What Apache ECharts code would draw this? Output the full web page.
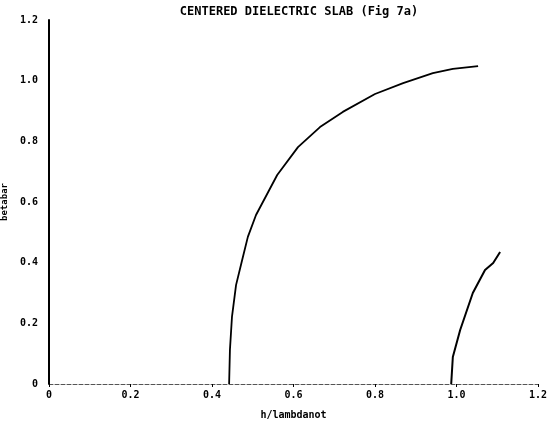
<!DOCTYPE html>
<html>
<head>
<meta charset="utf-8">
<script src="https://cdn.jsdelivr.net/npm/echarts@6/dist/echarts.min.js"></script>
<style>html,body{margin:0;padding:0;background:#fff}#c{width:551px;height:426px}</style>
</head>
<body>
<div id="c"></div>
<script>
var titleText = "CENTERED DIELECTRIC SLAB (Fig 7a)";
var xName = "h/lambdanot";
var yName = "betabar";
var mode1X = [0.442, 0.444, 0.449, 0.459, 0.474, 0.488, 0.508, 0.560, 0.611, 0.665, 0.721, 0.800, 0.869, 0.942, 0.991, 1.053];
var mode1Y = [0.000, 0.112, 0.221, 0.326, 0.409, 0.485, 0.557, 0.689, 0.781, 0.847, 0.897, 0.956, 0.992, 1.025, 1.039, 1.048];
var mode2X = [0.987, 0.991, 1.009, 1.040, 1.070, 1.090, 1.107];
var mode2Y = [0.000, 0.089, 0.178, 0.300, 0.376, 0.399, 0.435];

function pairs(xs, ys){ return xs.map(function(x,i){ return [x, ys[i]]; }); }
var font = "DejaVu Sans Mono";
var chart = echarts.init(document.getElementById('c'));
chart.setOption({
  animation: false,
  backgroundColor: '#fff',
  title: { text: titleText, left: 294, top: 1, textAlign: 'center',
    textStyle: { fontFamily: font, fontSize: 12, fontWeight: 'bold', color: '#000' } },
  grid: { left: 49, right: 13, top: 20, bottom: 42, containLabel: false, outerBoundsMode: 'none' },
  xAxis: { type: 'value', min: 0, max: 1.2, interval: 0.2,
    name: xName, nameLocation: 'middle', nameGap: 26,
    nameTextStyle: { fontFamily: font, fontSize: 10, fontWeight: 'bold', color: '#000' },
    axisLine: { show: true, onZero: false, lineStyle: { color: '#555', width: 1, type: 'dashed' } },
    axisTick: { show: true, length: 3, inside: false, lineStyle: { color: '#000' } },
    splitLine: { show: false },
    axisLabel: { margin: 6, fontFamily: font, fontSize: 10, fontWeight: 'bold', color: '#000',
      formatter: function(v){ return v === 0 ? '0' : v.toFixed(1); } } },
  yAxis: { type: 'value', min: 0, max: 1.2, interval: 0.2,
    name: yName, nameLocation: 'middle', nameGap: 40, nameRotate: 90,
    nameTextStyle: { fontFamily: font, fontSize: 9, fontWeight: 'bold', color: '#000' },
    axisLine: { show: true, onZero: false, lineStyle: { color: '#000', width: 2 } },
    axisTick: { show: false },
    splitLine: { show: false },
    axisLabel: { margin: 11, fontFamily: font, fontSize: 10, fontWeight: 'bold', color: '#000',
      formatter: function(v){ return v === 0 ? '0' : v.toFixed(1); } } },
  series: [
    { type: 'line', data: pairs(mode1X, mode1Y), showSymbol: false, lineStyle: { color: '#000', width: 1.8 } },
    { type: 'line', data: pairs(mode2X, mode2Y), showSymbol: false, lineStyle: { color: '#000', width: 2 } }
  ]
});
</script>
</body>
</html>
